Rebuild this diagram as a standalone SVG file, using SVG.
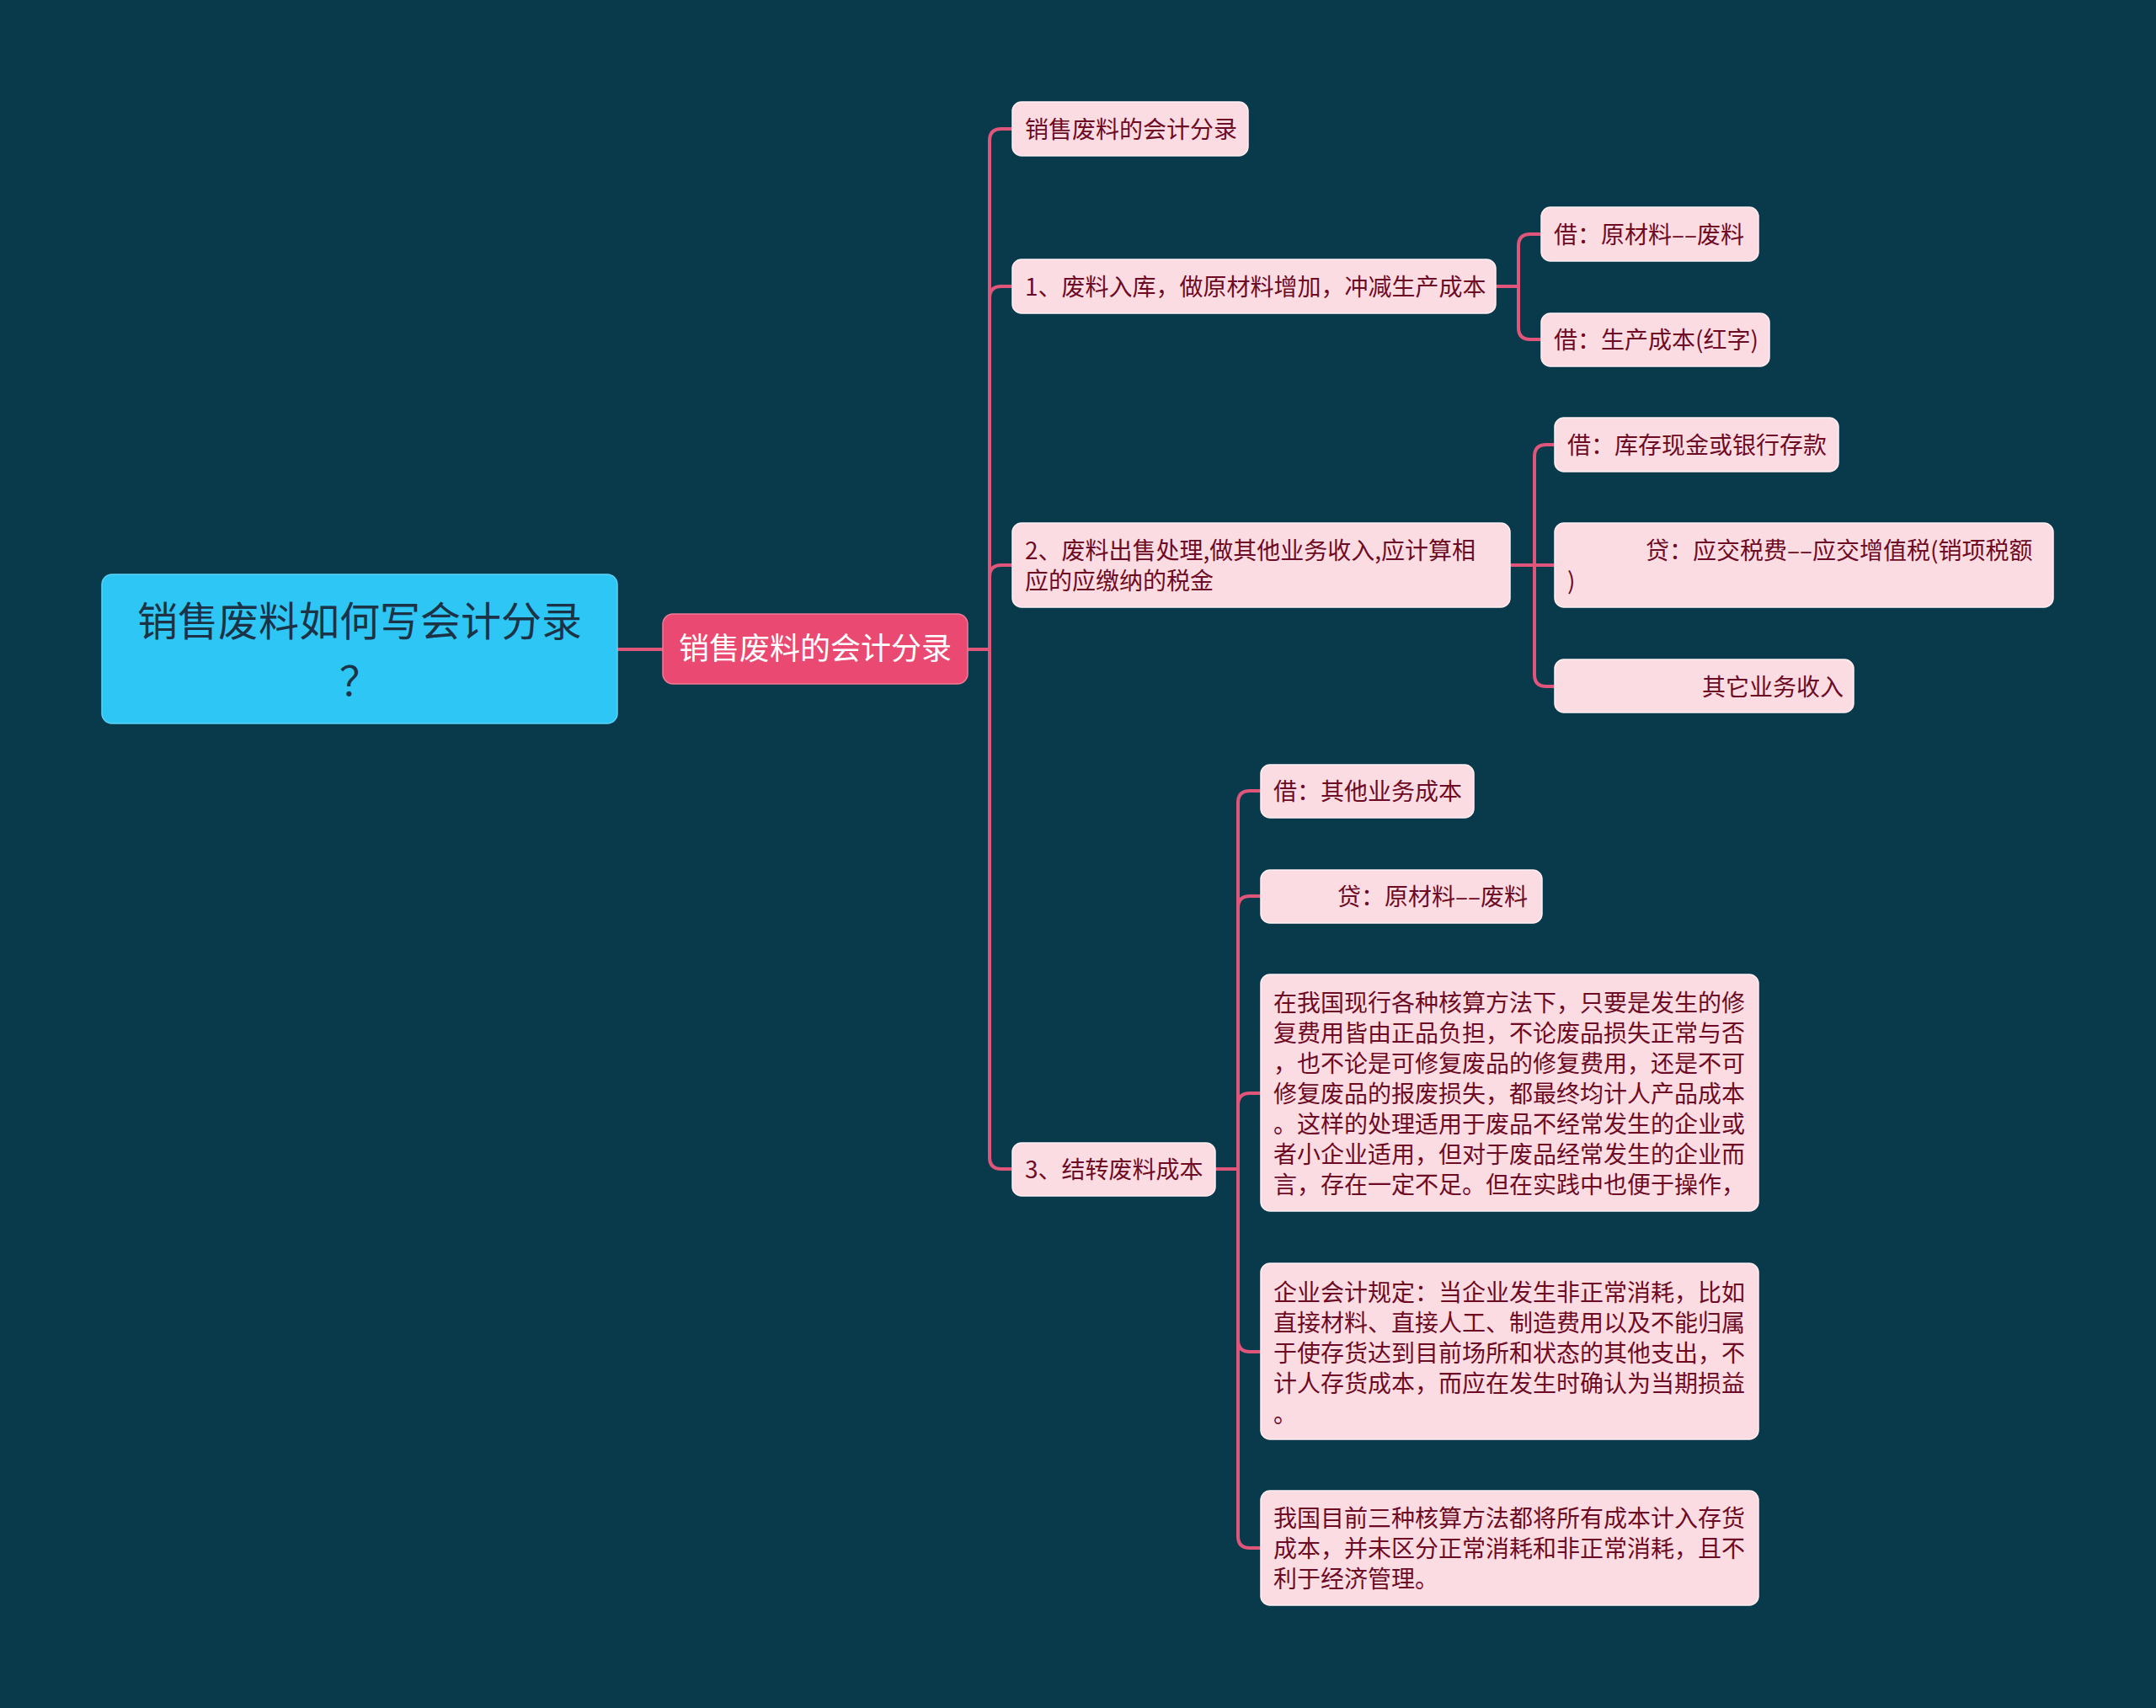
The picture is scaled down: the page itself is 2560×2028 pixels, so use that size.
<svg xmlns="http://www.w3.org/2000/svg" width="2560" height="2028" viewBox="0 0 2560 2028">
<style>
.bg{fill:#083a4c}
.link{fill:none;stroke:#e0567b;stroke-width:4;stroke-linecap:round}
.n{fill:#fcdce3;stroke:#ffeef2;stroke-width:1.5}
.t{font-family:"Noto Sans CJK SC","Noto Sans",sans-serif;font-size:28px;fill:#6d0b24;dominant-baseline:central}
.root{fill:#2ec6f5;stroke:#5ad3f7;stroke-width:1.5}
.rt{font-family:"Noto Sans CJK SC","Noto Sans",sans-serif;font-size:48px;fill:#1b3345;dominant-baseline:central;text-anchor:middle}
.main{fill:#ea4a72;stroke:#f27a96;stroke-width:1.5}
.mt{font-family:"Noto Sans CJK SC","Noto Sans",sans-serif;font-size:36px;fill:#ffffff;dominant-baseline:central;text-anchor:middle}
</style>
<rect class="bg" x="0" y="0" width="2560" height="2028"/>
<g id="connectors">
<path class="link" d="M733 771 H787"/>
<path class="link" d="M1149 771 H1175"/>
<path class="link" d="M1175 771 V167 Q1175 153 1189 153 H1202"/>
<path class="link" d="M1175 771 V354 Q1175 340 1189 340 H1202"/>
<path class="link" d="M1175 771 V685 Q1175 671 1189 671 H1202"/>
<path class="link" d="M1175 771 V1374 Q1175 1388 1189 1388 H1202"/>
<path class="link" d="M1776 340 H1803"/>
<path class="link" d="M1803 340 V292 Q1803 278 1817 278 H1830"/>
<path class="link" d="M1803 340 V389 Q1803 403 1817 403 H1830"/>
<path class="link" d="M1793 671 H1846"/>
<path class="link" d="M1822 671 V542 Q1822 528 1836 528 H1846"/>
<path class="link" d="M1822 671 V801 Q1822 815 1836 815 H1846"/>
<path class="link" d="M1443 1388 H1470"/>
<path class="link" d="M1470 1388 V953 Q1470 939 1484 939 H1497"/>
<path class="link" d="M1470 1388 V1078 Q1470 1064 1484 1064 H1497"/>
<path class="link" d="M1470 1388 V1312 Q1470 1298 1484 1298 H1497"/>
<path class="link" d="M1470 1388 V1591 Q1470 1605 1484 1605 H1497"/>
<path class="link" d="M1470 1388 V1824 Q1470 1838 1484 1838 H1497"/>
</g>
<g id="root">
<rect class="root" x="121" y="682" width="612" height="177" rx="12"/>
<text class="rt" x="427" y="734">销售废料如何写会计分录</text>
<text class="rt" x="427" y="805">？</text>
</g>
<g id="main">
<rect class="main" x="787" y="729" width="362" height="83" rx="12"/>
<text class="mt" x="968" y="767">销售废料的会计分录</text>
</g>
<g id="nodeA">
<rect class="n" x="1202" y="121" width="280" height="64" rx="11"/>
<text class="t" x="1217" y="152">销售废料的会计分录</text>
</g>
<g id="nodeB">
<rect class="n" x="1202" y="308" width="574" height="64" rx="11"/>
<text class="t" x="1217" y="339">1、废料入库，做原材料增加，冲减生产成本</text>
</g>
<g id="nodeB1">
<rect class="n" x="1830" y="246" width="258" height="64" rx="11"/>
<text class="t" x="1845" y="277">借：原材料––废料</text>
</g>
<g id="nodeB2">
<rect class="n" x="1830" y="372" width="271" height="63" rx="11"/>
<text class="t" x="1845" y="402">借：生产成本(红字)</text>
</g>
<g id="nodeC">
<rect class="n" x="1202" y="621" width="591" height="100" rx="11"/>
<text class="t" x="1217" y="652">2、废料出售处理,做其他业务收入,应计算相</text>
<text class="t" x="1217" y="688">应的应缴纳的税金</text>
</g>
<g id="nodeC1">
<rect class="n" x="1846" y="496" width="337" height="64" rx="11"/>
<text class="t" x="1861" y="527">借：库存现金或银行存款</text>
</g>
<g id="nodeC2">
<rect class="n" x="1846" y="621" width="592" height="100" rx="11"/>
<text class="t" x="1954" y="652">贷：应交税费––应交增值税(销项税额</text>
<text class="t" x="1861" y="688">)</text>
</g>
<g id="nodeC3">
<rect class="n" x="1846" y="783" width="355" height="63" rx="11"/>
<text class="t" x="2021" y="814">其它业务收入</text>
</g>
<g id="nodeD">
<rect class="n" x="1202" y="1357" width="241" height="63" rx="11"/>
<text class="t" x="1217" y="1387">3、结转废料成本</text>
</g>
<g id="nodeD1">
<rect class="n" x="1497" y="908" width="253" height="63" rx="11"/>
<text class="t" x="1512" y="938">借：其他业务成本</text>
</g>
<g id="nodeD2">
<rect class="n" x="1497" y="1033" width="334" height="63" rx="11"/>
<text class="t" x="1588" y="1063">贷：原材料––废料</text>
</g>
<g id="nodeD3">
<rect class="n" x="1497" y="1157" width="591" height="281" rx="11"/>
<text class="t" x="1512" y="1189">在我国现行各种核算方法下，只要是发生的修</text>
<text class="t" x="1512" y="1225">复费用皆由正品负担，不论废品损失正常与否</text>
<text class="t" x="1512" y="1261">，也不论是可修复废品的修复费用，还是不可</text>
<text class="t" x="1512" y="1297">修复废品的报废损失，都最终均计人产品成本</text>
<text class="t" x="1512" y="1333">。这样的处理适用于废品不经常发生的企业或</text>
<text class="t" x="1512" y="1369">者小企业适用，但对于废品经常发生的企业而</text>
<text class="t" x="1512" y="1405">言，存在一定不足。但在实践中也便于操作，</text>
</g>
<g id="nodeD4">
<rect class="n" x="1497" y="1500" width="591" height="209" rx="11"/>
<text class="t" x="1512" y="1533">企业会计规定：当企业发生非正常消耗，比如</text>
<text class="t" x="1512" y="1569">直接材料、直接人工、制造费用以及不能归属</text>
<text class="t" x="1512" y="1605">于使存货达到目前场所和状态的其他支出，不</text>
<text class="t" x="1512" y="1641">计人存货成本，而应在发生时确认为当期损益</text>
<text class="t" x="1512" y="1677">。</text>
</g>
<g id="nodeD5">
<rect class="n" x="1497" y="1770" width="591" height="136" rx="11"/>
<text class="t" x="1512" y="1801">我国目前三种核算方法都将所有成本计入存货</text>
<text class="t" x="1512" y="1837">成本，并未区分正常消耗和非正常消耗，且不</text>
<text class="t" x="1512" y="1873">利于经济管理。</text>
</g>
</svg>
